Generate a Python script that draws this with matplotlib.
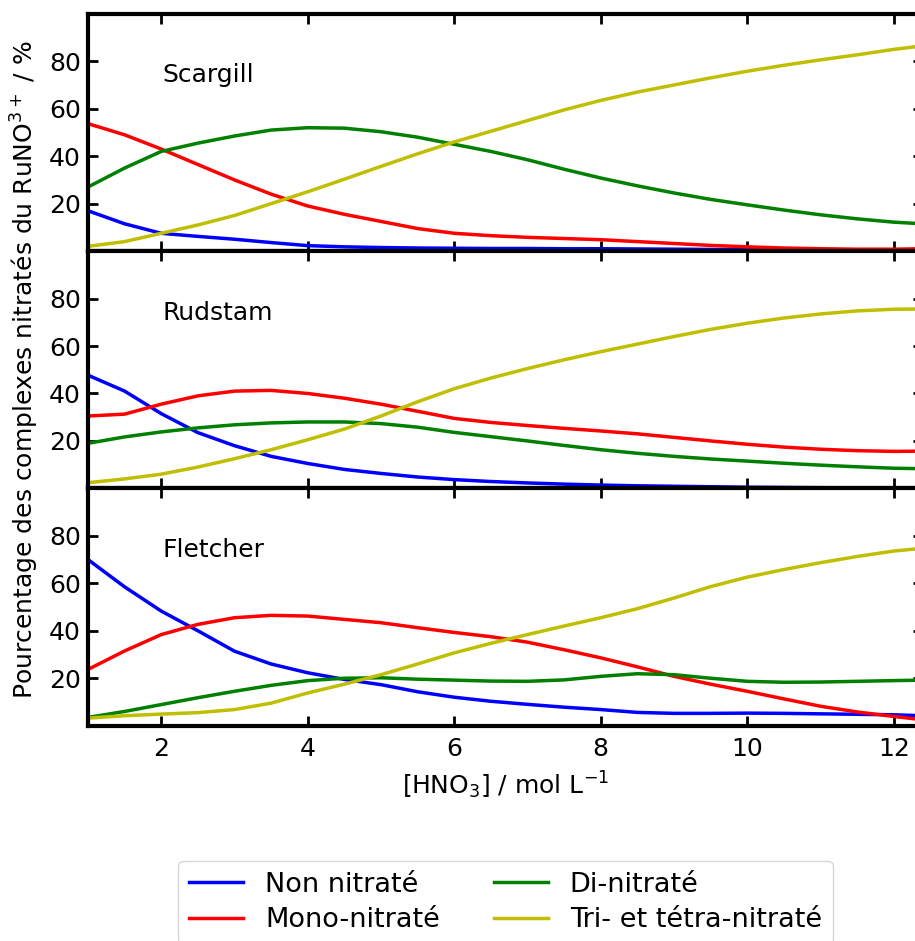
import matplotlib

matplotlib.use("Agg")
import matplotlib.pyplot as plt

# [HNO3] in mol/L
x = [1, 1.5, 2, 2.5, 3, 3.5, 4, 4.5, 5, 5.5, 6, 6.5, 7, 7.5, 8, 8.5, 9, 9.5,
     10, 10.5, 11, 11.5, 12, 12.4]

# Scargill
scargill_non = [17, 11.5, 7.5, 6.2, 5, 3.6, 2.3, 1.8, 1.5, 1.3, 1.2, 1.1, 1.1, 1, 1, 0.9,
                0.8, 0.7, 0.6, 0.5, 0.5, 0.5, 0.5, 0.5]
scargill_mono = [53.7, 49, 43, 36.5, 30, 24, 19, 15.5, 12.5, 9.5, 7.5, 6.5, 5.8, 5.3, 4.8,
                 4, 3.2, 2.4, 1.8, 1.3, 1, 0.8, 0.8, 1]
scargill_di = [27, 35, 42, 45.5, 48.5, 51, 52, 51.8, 50.3, 48, 45, 42, 38.5, 34.5, 30.8,
               27.5, 24.5, 21.8, 19.5, 17.3, 15.3, 13.6, 12.2, 11.5]
scargill_tri = [2, 4, 7.5, 11, 15, 20, 25, 30.3, 35.7, 41, 46, 50.5, 55, 59.5, 63.5, 67,
                70, 73, 75.8, 78.3, 80.6, 82.7, 85, 86.5]

# Rudstam
rudstam_non = [47.7, 41, 31.5, 23.5, 18, 13.5, 10.5, 8, 6.3, 4.8, 3.7, 2.9, 2.3, 1.8, 1.4,
               1.1, 0.9, 0.7, 0.5, 0.4, 0.3, 0.2, 0.2, 0.2]
rudstam_mono = [30.5, 31.3, 35.5, 39, 41, 41.3, 40, 38, 35.5, 32.5, 29.5, 27.8, 26.5, 25.3,
                24.2, 23, 21.5, 20, 18.6, 17.4, 16.5, 15.9, 15.6, 15.7]
rudstam_di = [19, 21.7, 23.8, 25.5, 26.8, 27.6, 28, 28, 27.3, 25.8, 23.6, 21.8, 20, 18.1,
              16.3, 14.8, 13.5, 12.4, 11.5, 10.6, 9.8, 9.1, 8.5, 8.3]
rudstam_tri = [2.4, 4, 6, 9, 12.5, 16.3, 20.5, 25, 30.5, 36.5, 42, 46.5, 50.5, 54.2, 57.6,
               60.8, 64, 67, 69.6, 71.8, 73.5, 74.8, 75.5, 75.6]

# Fletcher
fletcher_non = [70, 58.5, 48.3, 40, 31.4, 26, 22.3, 19.5, 17.3, 14.3, 12, 10.3, 9, 7.8, 6.8,
                5.6, 5.2, 5.2, 5.3, 5.2, 5, 4.8, 4.6, 4.2]
fletcher_mono = [23.7, 31.5, 38.4, 42.7, 45.5, 46.5, 46.2, 44.8, 43.4, 41.3, 39.3, 37.5,
                 35.2, 32, 28.6, 24.8, 20.8, 17.5, 14.5, 11.3, 8.2, 5.8, 3.9, 2.5]
fletcher_di = [3.5, 6, 8.9, 11.8, 14.5, 17, 19, 20, 20.2, 19.6, 19.2, 18.8, 18.7, 19.3,
               20.8, 21.9, 21.5, 20, 18.7, 18.3, 18.4, 18.7, 19, 19.2]
fletcher_tri = [3.2, 4.2, 4.9, 5.5, 6.8, 9.5, 13.8, 17.5, 21.5, 26, 30.7, 34.7, 38.4, 42,
                45.5, 49.3, 53.8, 58.6, 62.6, 65.8, 68.7, 71.3, 73.6, 74.8]

panel_names = ["Scargill", "Rudstam", "Fletcher"]
panel_data = [
    [scargill_non, scargill_mono, scargill_di, scargill_tri],
    [rudstam_non, rudstam_mono, rudstam_di, rudstam_tri],
    [fletcher_non, fletcher_mono, fletcher_di, fletcher_tri],
]
series_labels = ["Non nitraté", "Mono-nitraté", "Di-nitraté", "Tri- et tétra-nitraté"]
series_colors = ["b", "r", "g", "y"]

fig = plt.figure(figsize=(9.15, 9.41), dpi=100)
W, H = 915.0, 941.0
left = 88 / W
right = 923 / W
panel_h = 237.3 / H
bottom0 = 1 - 725.7 / H

axes = []
for i in range(3):
    b = bottom0 + (2 - i) * panel_h
    ax = fig.add_axes([left, b, right - left, panel_h])
    axes.append(ax)

for i, (ax, name, series) in enumerate(zip(axes, panel_names, panel_data)):
    for ys, lab, c in zip(series, series_labels, series_colors):
        ax.plot(x, ys, color=c, lw=2.5, label=lab)
    ax.set_xlim(1, 12.4)
    ax.set_ylim(0, 100)
    ax.set_yticks([20, 40, 60, 80])
    ax.set_xticks([2, 4, 6, 8, 10, 12])
    ax.tick_params(direction="in", top=True, right=True, length=7, width=2,
                   labelsize=18)
    ax.tick_params(axis="x", pad=8)
    ax.tick_params(axis="y", pad=5)
    for sp in ax.spines.values():
        sp.set_linewidth(3)
    ax.text(2.02, 74, name, fontsize=18, va="center", ha="left")
    if i < 2:
        ax.tick_params(labelbottom=False)

axes[2].set_xlabel("[HNO$_3$] / mol L$^{-1}$", fontsize=18, labelpad=6)
fig.text(0.027, 1 - 370 / H, "Pourcentage des complexes nitratés du RuNO$^{3+}$ / %",
         rotation=90, ha="center", va="center", fontsize=18)

handles, labels = axes[0].get_legend_handles_labels()
fig.legend(handles, labels, ncol=2, loc="upper center", fontsize=19.5, borderaxespad=0,
           labelspacing=0.35, bbox_to_anchor=(505.5 / W, 1 - 861 / H),
           bbox_transform=fig.transFigure)

fig.savefig("out.png", dpi=100)
